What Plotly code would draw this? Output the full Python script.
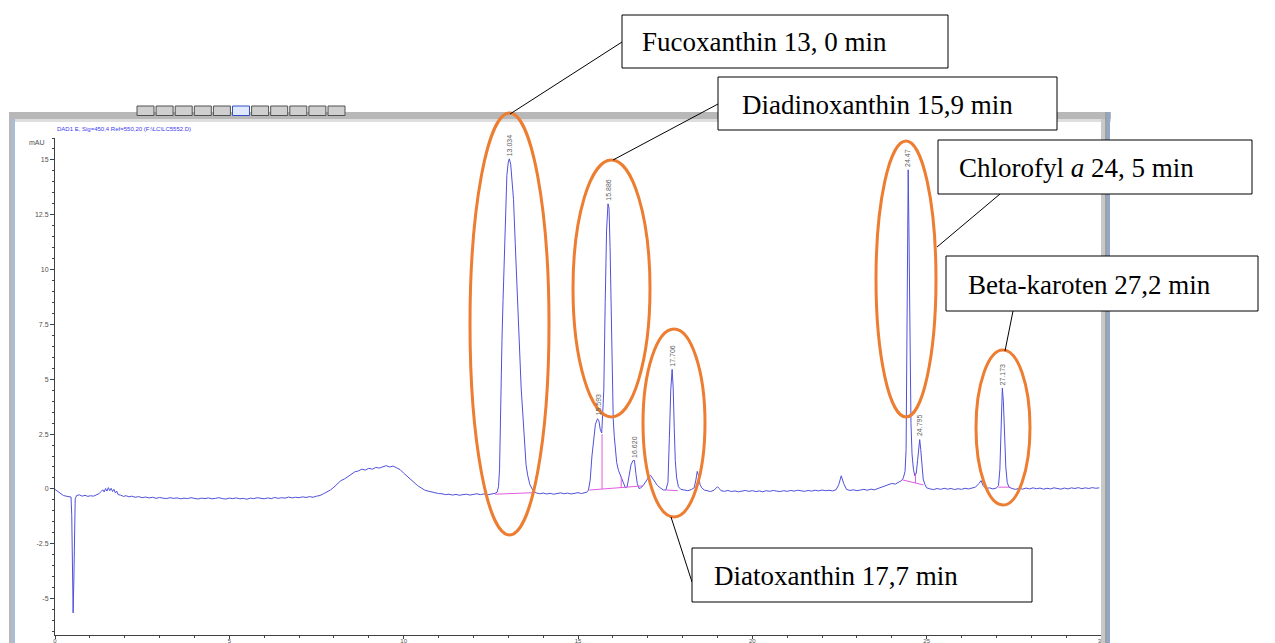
import plotly.graph_objects as go

# ---------------- data (time in min, signal in mAU) -------------
t_start = [0.00, 0.08, 0.16, 0.24, 0.32, 0.40, 0.46, 0.48, 0.50, 0.52,
           0.54, 0.56, 0.58, 0.62, 0.70, 0.78, 0.86, 0.94, 1.02, 1.10,
           1.18, 1.26, 1.32, 1.37, 1.41, 1.45, 1.49, 1.53, 1.57, 1.61,
           1.65, 1.69, 1.73, 1.77, 1.81, 1.88, 1.96, 2.04, 2.12]
v_start = [-0.02, -0.12, -0.24, -0.30, -0.33, -0.35, -0.37, -1.2, -3.5, -5.65,
           -4.2, -1.2, -0.45, -0.30, -0.27, -0.33, -0.29, -0.34, -0.31, -0.33,
           -0.28, -0.22, -0.12, -0.04, -0.14, 0.02, -0.10, 0.06, -0.08, 0.03,
           -0.12, -0.02, -0.18, -0.10, -0.26, -0.28, -0.34, -0.31, -0.36]

t_flat = [2.2, 2.3, 2.4, 2.5, 2.6, 2.7, 2.8, 2.9, 3.0, 3.1,
          3.2, 3.3, 3.4, 3.5, 3.6, 3.7, 3.8, 3.9, 4.0, 4.1,
          4.2, 4.3, 4.4, 4.5, 4.6, 4.7, 4.8, 4.9, 5.0, 5.1,
          5.2, 5.3, 5.4, 5.5, 5.6, 5.7, 5.8, 5.9, 6.0, 6.1,
          6.2, 6.3, 6.4, 6.5, 6.6, 6.7, 6.8, 6.9, 7.0, 7.1,
          7.2, 7.3, 7.4, 7.5, 7.6]
v_flat = [-0.33, -0.38, -0.35, -0.40, -0.37, -0.41, -0.38, -0.43, -0.39, -0.42,
          -0.44, -0.40, -0.43, -0.41, -0.45, -0.42, -0.44, -0.40, -0.43, -0.46,
          -0.42, -0.44, -0.41, -0.45, -0.43, -0.40, -0.44, -0.46, -0.42, -0.44,
          -0.41, -0.45, -0.43, -0.47, -0.42, -0.44, -0.40, -0.43, -0.45, -0.41,
          -0.44, -0.39, -0.43, -0.40, -0.42, -0.37, -0.41, -0.38, -0.40, -0.36,
          -0.39, -0.35, -0.38, -0.33, -0.30]

t_hump = [7.7, 7.8, 7.9, 8.0, 8.1, 8.2, 8.3, 8.4, 8.5, 8.6,
          8.7, 8.8, 8.9, 9.0, 9.1, 9.2, 9.3, 9.4, 9.5, 9.6,
          9.7, 9.8, 9.9, 10.0, 10.1, 10.2, 10.3, 10.4, 10.5, 10.6,
          10.7, 10.8, 10.9, 11.0, 11.1, 11.2, 11.3, 11.4, 11.5, 11.6,
          11.7, 11.8, 11.9, 12.0, 12.1, 12.2, 12.3, 12.4, 12.5]
v_hump = [-0.22, -0.15, -0.05, 0.08, 0.22, 0.38, 0.45, 0.55, 0.68, 0.78,
          0.82, 0.90, 0.86, 0.94, 0.90, 0.98, 0.95, 1.02, 1.06, 1.00,
          1.04, 0.96, 0.88, 0.72, 0.58, 0.42, 0.28, 0.15, 0.05, -0.05,
          -0.10, -0.14, -0.18, -0.21, -0.22, -0.26, -0.24, -0.28, -0.25, -0.29,
          -0.26, -0.24, -0.28, -0.25, -0.22, -0.26, -0.23, -0.27, -0.24]

t_fuco = [12.56, 12.62, 12.68, 12.72, 12.75, 12.78, 12.82, 12.85, 12.89, 12.92,
          12.96, 13.00, 13.03, 13.07, 13.11, 13.15, 13.20, 13.26, 13.32, 13.37,
          13.41, 13.46, 13.51, 13.56, 13.62, 13.70]
v_fuco = [-0.22, -0.20, -0.15, 0.1, 0.9, 4.0, 6.8, 8.6, 11.0, 13.0,
          14.3, 14.9, 15.05, 14.8, 14.1, 13.2, 11.2, 8.6, 6.0, 4.6,
          3.6, 2.4, 1.1, 0.6, 0.2, -0.05]

t_gap = [13.8, 13.9, 14.0, 14.1, 14.2, 14.3, 14.4, 14.5, 14.6, 14.7,
         14.8, 14.9, 15.0, 15.1, 15.18]
v_gap = [-0.18, -0.22, -0.19, -0.23, -0.20, -0.24, -0.21, -0.18, -0.22, -0.19,
         -0.23, -0.20, -0.17, -0.21, -0.18]

t_mid = [15.25, 15.30, 15.35, 15.40, 15.45, 15.50, 15.56, 15.60, 15.64, 15.68,
         15.71, 15.74, 15.78, 15.82, 15.86, 15.89, 15.92, 15.95, 15.98, 16.01,
         16.04, 16.07, 16.11, 16.16, 16.21, 16.26, 16.31, 16.36, 16.41, 16.46,
         16.52, 16.58, 16.62, 16.66, 16.70, 16.75, 16.80, 16.87, 16.93, 16.98,
         17.03, 17.08, 17.13, 17.20, 17.28, 17.36, 17.45, 17.52, 17.58, 17.62,
         17.66, 17.70, 17.73, 17.76, 17.79, 17.83, 17.88, 17.95, 18.05, 18.15,
         18.25, 18.33, 18.38, 18.42, 18.46, 18.50, 18.55, 18.62]
v_mid = [-0.15, -0.05, 0.4, 1.5, 2.4, 2.95, 3.2, 3.1, 2.7, 2.55,
         3.5, 4.5, 8.5, 11.8, 13.0, 12.8, 11.0, 8.0, 5.0, 3.2,
         2.4, 1.8, 1.2, 0.85, 0.65, 0.45, 0.2, 0.05, 0.1, 0.5,
         1.1, 1.3, 1.3, 0.7, 0.25, 0.02, 0.05, 0.15, 0.3, 0.45,
         0.55, 0.62, 0.5, 0.3, 0.15, 0.05, -0.05, -0.05, 0.3, 2.3,
         4.5, 5.45, 4.6, 2.8, 1.3, 0.5, 0.1, -0.02, -0.05, -0.08,
         -0.03, 0.05, 0.4, 0.8, 0.6, 0.2, 0.05, -0.05]

t_late = [18.7, 18.8, 18.9, 19.0, 19.05, 19.1, 19.2, 19.3, 19.4, 19.5,
          19.6, 19.7, 19.8, 19.9, 20.0, 20.1, 20.2, 20.3, 20.4, 20.5,
          20.6, 20.7, 20.8, 20.9, 21.0, 21.1, 21.2, 21.3, 21.4, 21.5,
          21.6, 21.7, 21.8, 21.9, 22.0, 22.1, 22.2, 22.3, 22.4, 22.48,
          22.55, 22.62, 22.7, 22.8, 22.9, 23.0, 23.1, 23.2, 23.3, 23.4,
          23.5, 23.6, 23.7, 23.8]
v_late = [-0.08, -0.12, -0.06, 0.10, 0.02, -0.08, -0.11, -0.07, -0.12, -0.09,
          -0.13, -0.10, -0.07, -0.11, -0.08, -0.12, -0.09, -0.13, -0.08, -0.11,
          -0.07, -0.10, -0.12, -0.08, -0.11, -0.07, -0.10, -0.06, -0.09, -0.11,
          -0.07, -0.10, -0.06, -0.09, -0.05, -0.08, -0.06, -0.09, -0.04, 0.2,
          0.6, 0.25, -0.02, -0.07, -0.04, -0.08, -0.05, -0.02, -0.06, -0.01,
          -0.04, 0.02, 0.06, 0.12]

t_chl = [23.9, 24.0, 24.1, 24.2, 24.28, 24.33, 24.38, 24.41, 24.43, 24.45,
         24.47, 24.49, 24.51, 24.53, 24.55, 24.58, 24.62, 24.66, 24.70, 24.74,
         24.78, 24.80, 24.83, 24.86, 24.90, 24.95, 25.0, 25.1]
v_chl = [0.18, 0.25, 0.22, 0.32, 0.38, 0.5, 0.8, 1.8, 5.0, 10.0,
         14.55, 12.0, 8.0, 5.0, 3.0, 1.6, 0.9, 0.6, 0.7, 1.3,
         2.1, 2.25, 1.8, 1.0, 0.45, 0.2, 0.05, 0.0]

t_end = [25.2, 25.3, 25.4, 25.5, 25.6, 25.7, 25.8, 25.9, 26.0, 26.1,
         26.2, 26.3, 26.4, 26.5, 26.56, 26.62, 26.7, 26.8, 26.9, 27.0,
         27.06, 27.10, 27.14, 27.17, 27.20, 27.23, 27.27, 27.31, 27.36, 27.45,
         27.55, 27.65, 27.75, 27.85, 27.95, 28.05, 28.15, 28.25, 28.35, 28.45,
         28.55, 28.65, 28.75, 28.85, 28.95, 29.05, 29.15, 29.25, 29.35, 29.45,
         29.55, 29.65, 29.75, 29.85, 29.95]
v_end = [-0.03, 0.02, -0.02, 0.03, -0.01, 0.02, -0.03, 0.01, -0.02, 0.03,
         0.0, 0.04, 0.08, 0.25, 0.38, 0.15, 0.02, 0.05, 0.0, 0.04,
         0.15, 0.9, 2.6, 4.6, 4.0, 2.5, 1.0, 0.3, 0.08, 0.02,
         -0.02, 0.03, -0.01, 0.04, 0.0, 0.05, 0.01, 0.04, -0.01, 0.03,
         0.0, 0.05, 0.02, -0.01, 0.04, 0.0, 0.05, 0.02, 0.06, 0.01,
         0.05, 0.02, 0.06, 0.03, 0.05]

# integration baselines drawn by the software (None separates segments)
base_t = [12.62, 13.75, None, 15.33, 16.86, None, 15.69, 15.69, None, 16.24, 16.24, None,
          17.53, 17.86, None, 24.31, 24.91, None, 24.68, 24.68, None, 27.06, 27.40]
base_v = [-0.24, -0.17, None, -0.05, 0.14, None, 2.5, 0.0, None, 0.56, 0.08, None,
          -0.05, -0.08, None, 0.41, 0.18, None, 0.73, 0.27, None, 0.08, 0.08]

# peak retention-time labels
peak_rt = [13.034, 15.593, 15.886, 16.620, 17.706, 24.47, 24.795, 27.173]
peak_top = [15.05, 3.2, 13.0, 1.3, 5.45, 14.55, 2.25, 4.6]
peak_text = ["13.034", "15.593", "15.886", "16.620", "17.706", "24.47", "24.795", "27.173"]

# callout texts
callout_text = ["Fucoxanthin 13, 0 min", "Diadinoxanthin 15,9 min",
                "Chlorofyl <i>a</i> 24, 5 min", "Beta-karoten 27,2 min",
                "Diatoxanthin 17,7 min"]

y_tick_vals = [-5, -2.5, 0, 2.5, 5, 7.5, 10, 12.5, 15]
y_tick_text = ["-5", "-2.5", "0", "2.5", "5", "7.5", "10", "12.5", "15"]
x_tick_vals = [0, 5, 10, 15, 20, 25, 30]
x_tick_text = ["0", "5", "10", "15", "20", "25", "30"]

segments = [(t_start, v_start), (t_flat, v_flat), (t_hump, v_hump), (t_fuco, v_fuco),
            (t_gap, v_gap), (t_mid, v_mid), (t_late, v_late), (t_chl, v_chl), (t_end, v_end)]
time_min, signal_mau = [], []
for i, (ts, vs) in enumerate(segments):
    assert len(ts) == len(vs), f"segment {i}: {len(ts)} vs {len(vs)}"
    time_min += ts
    signal_mau += vs

# ---------------- layout geometry (pixels) ----------------
W, H = 1275, 643
PL, PR, PT, PB = 55, 1101, 138, 635


def px(x):
    return (x - PL) / (PR - PL)


def py(y):
    return (PB - y) / (PB - PT)


fig = go.Figure()
fig.add_trace(go.Scatter(x=time_min, y=signal_mau, mode="lines",
                         line=dict(color="#5050dc", width=1), hoverinfo="skip",
                         showlegend=False, cliponaxis=False))
fig.add_trace(go.Scatter(x=base_t, y=base_v, mode="lines",
                         line=dict(color="#e05ce0", width=1), hoverinfo="skip",
                         showlegend=False))

shapes = []
# window frame
frame = [
    (9, 112, 1111, 119, "#b8b8b8"),
    (9, 119, 1111, 122, "#dedede"),
    (9, 112, 12, 643, "#b8b8b8"),
    (12, 119, 15, 643, "#a9bdd8"),
    (1101, 119, 1105, 643, "#c8c8c8"),
    (1105, 112, 1107, 643, "#a0a0a0"),
    (1107, 112, 1110, 643, "#8fa7c8"),
]
for x0, y0, x1, y1, c in frame:
    shapes.append(dict(type="rect", xref="paper", yref="paper", x0=px(x0), x1=px(x1),
                       y0=py(y1), y1=py(y0), fillcolor=c, line=dict(width=0), layer="above"))
# toolbar buttons
for k in range(11):
    bx = 137 + k * 19.1
    hl = (k == 5)
    shapes.append(dict(type="rect", xref="paper", yref="paper", x0=px(bx), x1=px(bx + 17),
                       y0=py(115.5), y1=py(106),
                       fillcolor="#dfe8ff" if hl else "#cfcfcf",
                       line=dict(color="#3050c0" if hl else "#505050", width=1), layer="above"))

# ellipses around peaks
ellipses = [(470, 113, 549, 535), (573, 160, 650, 417), (643, 329, 705, 517),
            (876, 141, 936, 417), (976, 350, 1030, 505)]
for x0, y0, x1, y1 in ellipses:
    shapes.append(dict(type="circle", xref="paper", yref="paper", x0=px(x0), x1=px(x1),
                       y0=py(y1), y1=py(y0), line=dict(color="#ED7D31", width=3),
                       layer="above"))
# leader lines
leaders = [(622, 42, 510, 114), (718, 104, 613, 160), (1000, 194, 937, 247),
           (1013, 311, 1005, 351), (692, 582, 671, 517)]
for x0, y0, x1, y1 in leaders:
    shapes.append(dict(type="line", xref="paper", yref="paper", x0=px(x0), x1=px(x1),
                       y0=py(y0), y1=py(y1), line=dict(color="black", width=1), layer="above"))
# callout boxes
boxes = [(622, 15, 948, 68), (718, 77, 1057, 130), (938, 140, 1252, 194),
         (946, 256, 1258, 311), (692, 548, 1032, 602)]
for x0, y0, x1, y1 in boxes:
    shapes.append(dict(type="rect", xref="paper", yref="paper", x0=px(x0), x1=px(x1),
                       y0=py(y1), y1=py(y0), fillcolor="white",
                       line=dict(color="black", width=1), layer="above"))

annotations = []
text_x = [640, 740, 957, 966, 712]
for (x0, y0, x1, y1), tx, txt in zip(boxes, text_x, callout_text):
    annotations.append(dict(xref="paper", yref="paper", x=px(tx), y=py((y0 + y1) / 2 + 1),
                            xanchor="left", yanchor="middle", text=txt, showarrow=False,
                            font=dict(family="Liberation Serif", size=27, color="black")))
for rt, top, txt in zip(peak_rt, peak_top, peak_text):
    annotations.append(dict(x=rt, y=top, xref="x", yref="y", text=txt, textangle=-90,
                            showarrow=False, xanchor="center", yanchor="bottom", yshift=1,
                            font=dict(family="Liberation Sans", size=7, color="#606060")))
annotations.append(dict(xref="paper", yref="paper", x=px(47), y=py(142), text="mAU",
                        showarrow=False, xanchor="right", yanchor="middle",
                        font=dict(family="Liberation Sans", size=7, color="#505050")))
annotations.append(dict(xref="paper", yref="paper", x=px(55), y=py(129),
                        text="DAD1 E, Sig=450,4 Ref=550,20 (F:\\LC\\LC5552.D)",
                        showarrow=False, xanchor="left", yanchor="middle",
                        font=dict(family="Liberation Sans", size=6, color="#3a3af0")))

fig.update_layout(
    width=W, height=H,
    margin=dict(l=PL, r=W - PR, t=PT, b=H - PB, pad=0, autoexpand=False),
    paper_bgcolor="white", plot_bgcolor="white",
    shapes=shapes, annotations=annotations, showlegend=False,
    xaxis=dict(range=[0, 30], showgrid=False, zeroline=False, showline=True, automargin=False,
               linecolor="#404040", linewidth=1, ticks="outside", ticklen=3,
               tickcolor="#404040", tickvals=x_tick_vals, ticktext=x_tick_text,
               ticklabelstandoff=-3,
               tickfont=dict(family="Liberation Sans", size=6, color="#505050"),
               minor=dict(dtick=1, tick0=0, ticks="outside", ticklen=2, tickcolor="#404040")),
    yaxis=dict(range=[-6.66, 16.0], showgrid=False, zeroline=False, showline=True, automargin=False,
               linecolor="#404040", linewidth=1, ticks="outside", ticklen=4,
               tickcolor="#404040", tickvals=y_tick_vals, ticktext=y_tick_text,
               tickfont=dict(family="Liberation Sans", size=7, color="#505050"),
               minor=dict(dtick=0.5, tick0=0, ticks="outside", ticklen=2, tickcolor="#404040")),
)

fig.write_html("out.html", config={"displayModeBar": False},
               post_script="document.body.style.margin='0';document.body.style.overflow='hidden';")
